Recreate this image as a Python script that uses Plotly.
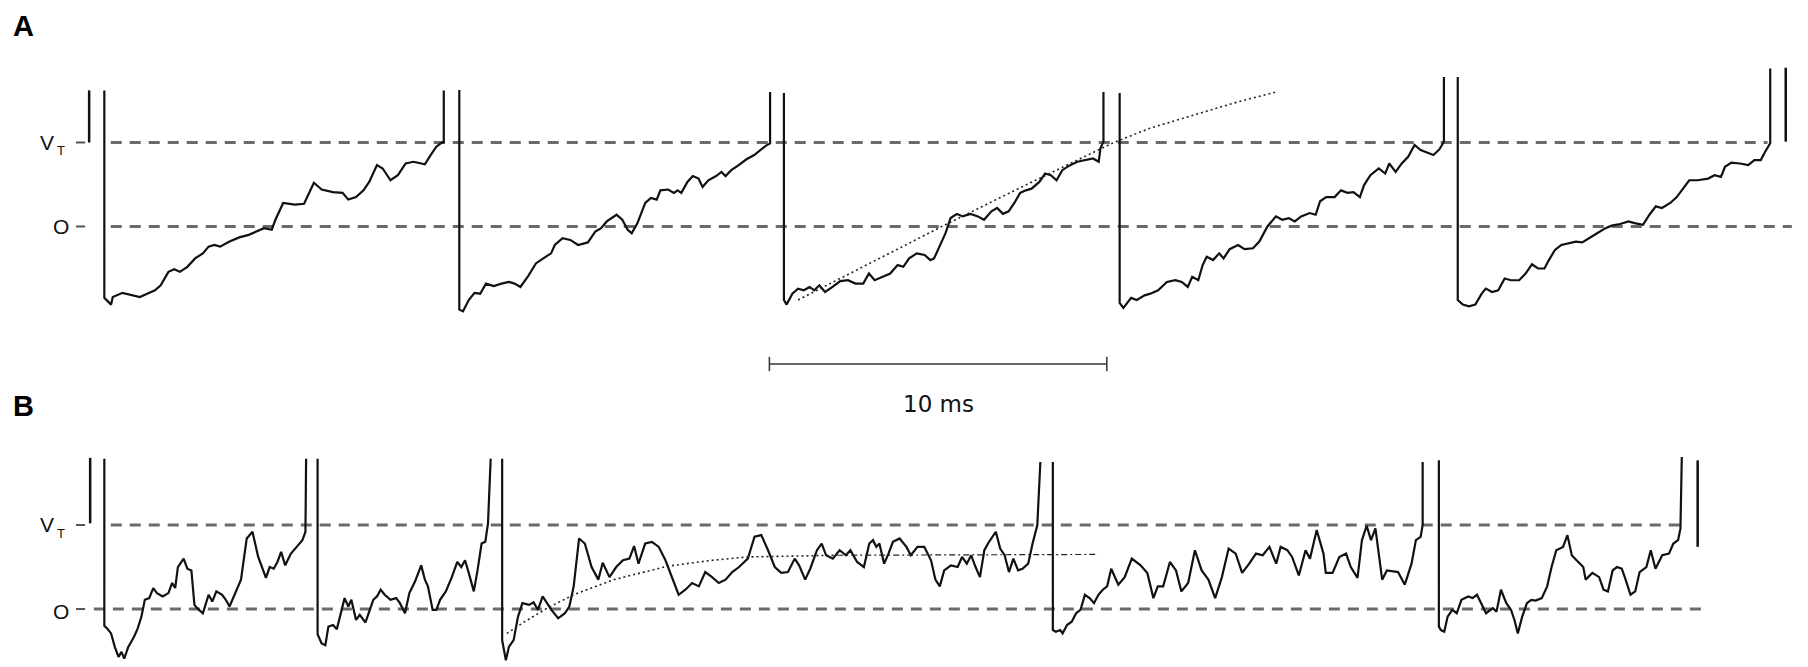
import plotly.graph_objects as go

# ---- data: time (ms), membrane potential (units: 0 = rest, 1 = V_T) ----
A1 = [(0.01,1.62),(0.01,-0.85),(0.21,-0.93),(0.26,-0.84),(0.55,-0.79),(0.83,-0.82),(1.06,-0.84),(1.28,-0.80),(1.51,-0.76),(1.68,-0.70),(1.91,-0.54),(2.08,-0.51),(2.25,-0.54),(2.47,-0.48),(2.70,-0.38),(2.93,-0.32),(3.10,-0.24),(3.27,-0.22),(3.44,-0.24),(3.72,-0.18),(4.01,-0.13),(4.29,-0.10),(4.52,-0.06),(4.74,-0.02),(4.97,-0.04),(5.08,0.08),(5.31,0.28),(5.65,0.26),(5.93,0.27),(6.22,0.52),(6.45,0.44),(6.78,0.41),(7.07,0.40),(7.24,0.32),(7.47,0.35),(7.69,0.43),(7.86,0.53),(8.09,0.73),(8.26,0.69),(8.49,0.55),(8.71,0.61),(8.94,0.75),(9.17,0.77),(9.51,0.74),(9.68,0.85),(9.85,0.95),(10.02,1.00),(10.07,1.00),(10.07,1.62)]
A2 = [(10.53,1.625),(10.53,-0.99),(10.64,-1.01),(10.81,-0.875),(10.98,-0.79),(11.15,-0.80),(11.32,-0.68),(11.55,-0.71),(11.78,-0.68),(12.00,-0.66),(12.17,-0.68),(12.34,-0.72),(12.57,-0.59),(12.80,-0.44),(13.02,-0.38),(13.25,-0.32),(13.36,-0.22),(13.59,-0.14),(13.82,-0.16),(14.05,-0.22),(14.34,-0.19),(14.56,-0.06),(14.73,-0.02),(14.90,0.06),(15.19,0.14),(15.36,0.08),(15.52,-0.04),(15.64,-0.08),(15.81,0.04),(16.04,0.28),(16.21,0.34),(16.38,0.32),(16.49,0.43),(16.72,0.44),(16.89,0.40),(17.00,0.43),(17.11,0.40),(17.29,0.53),(17.45,0.60),(17.62,0.57),(17.74,0.47),(17.91,0.55),(18.14,0.60),(18.30,0.65),(18.42,0.60),(18.59,0.67),(18.81,0.73),(19.04,0.80),(19.27,0.85),(19.44,0.91),(19.61,0.96),(19.70,0.98),(19.74,0.99),(19.74,1.60)]
A3 = [(20.15,1.59),(20.15,-0.875),(20.23,-0.93),(20.40,-0.80),(20.57,-0.74),(20.74,-0.76),(20.91,-0.72),(21.05,-0.76),(21.20,-0.70),(21.37,-0.78),(21.59,-0.72),(21.82,-0.65),(22.05,-0.64),(22.27,-0.68),(22.50,-0.68),(22.67,-0.56),(22.84,-0.64),(23.07,-0.60),(23.30,-0.56),(23.52,-0.46),(23.69,-0.48),(23.86,-0.38),(24.09,-0.32),(24.32,-0.34),(24.49,-0.40),(24.60,-0.38),(24.77,-0.24),(24.94,-0.08),(25.09,0.10),(25.28,0.15),(25.45,0.12),(25.68,0.15),(25.90,0.12),(26.08,0.08),(26.30,0.18),(26.47,0.22),(26.64,0.15),(26.81,0.18),(26.98,0.28),(27.15,0.40),(27.32,0.43),(27.49,0.45),(27.72,0.53),(27.89,0.63),(28.06,0.61),(28.23,0.55),(28.40,0.67),(28.63,0.73),(28.85,0.77),(29.08,0.79),(29.31,0.81),(29.48,0.77),(29.53,0.93),(29.62,1.01),(29.62,1.60)]
A4 = [(30.10,1.59),(30.10,-0.91),(30.21,-0.97),(30.44,-0.85),(30.61,-0.875),(30.84,-0.82),(31.01,-0.80),(31.24,-0.76),(31.50,-0.66),(31.75,-0.64),(31.94,-0.66),(32.12,-0.72),(32.25,-0.60),(32.43,-0.64),(32.56,-0.46),(32.68,-0.36),(32.87,-0.40),(33.05,-0.32),(33.18,-0.38),(33.36,-0.27),(33.61,-0.22),(33.80,-0.27),(34.05,-0.26),(34.24,-0.18),(34.48,0.0),(34.73,0.12),(34.92,0.08),(35.11,0.10),(35.29,0.06),(35.48,0.12),(35.73,0.16),(35.91,0.14),(36.04,0.30),(36.22,0.35),(36.47,0.35),(36.66,0.43),(36.85,0.40),(37.03,0.41),(37.22,0.35),(37.34,0.49),(37.53,0.61),(37.78,0.69),(37.97,0.63),(38.09,0.75),(38.28,0.65),(38.46,0.75),(38.65,0.83),(38.84,0.97),(39.02,0.91),(39.21,0.88),(39.40,0.85),(39.58,0.92),(39.71,1.01),(39.71,1.78)]
A5 = [(40.12,1.78),(40.12,-0.875),(40.27,-0.93),(40.45,-0.95),(40.64,-0.93),(40.83,-0.80),(40.95,-0.74),(41.14,-0.78),(41.32,-0.76),(41.51,-0.62),(41.70,-0.64),(41.94,-0.64),(42.13,-0.56),(42.32,-0.45),(42.50,-0.50),(42.69,-0.50),(42.82,-0.40),(43.00,-0.28),(43.19,-0.22),(43.44,-0.20),(43.62,-0.18),(43.81,-0.19),(44.00,-0.14),(44.25,-0.08),(44.50,-0.02),(44.68,0.01),(44.93,0.03),(45.18,0.06),(45.36,0.04),(45.61,0.02),(45.80,0.14),(45.99,0.24),(46.17,0.22),(46.42,0.28),(46.61,0.35),(46.80,0.45),(46.98,0.55),(47.23,0.55),(47.54,0.57),(47.73,0.61),(47.92,0.59),(48.04,0.71),(48.23,0.76),(48.48,0.75),(48.73,0.73),(48.91,0.79),(49.10,0.79),(49.23,0.89),(49.38,0.99),(49.38,1.88)]

B1 = [(0.01,1.79),(0.01,-0.20),(0.09,-0.23),(0.21,-0.29),(0.32,-0.45),(0.43,-0.57),(0.52,-0.51),(0.60,-0.59),(0.72,-0.45),(0.89,-0.33),(1.00,-0.23),(1.11,-0.09),(1.21,0.11),(1.34,0.13),(1.46,0.25),(1.57,0.19),(1.74,0.15),(1.91,0.19),(2.02,0.31),(2.11,0.25),(2.19,0.50),(2.36,0.60),(2.47,0.48),(2.59,0.46),(2.68,0.05),(2.76,0.01),(2.93,-0.05),(3.10,0.17),(3.21,0.09),(3.33,0.21),(3.50,0.17),(3.61,0.11),(3.72,0.03),(3.89,0.19),(4.06,0.35),(4.23,0.84),(4.40,0.92),(4.57,0.62),(4.80,0.37),(4.91,0.50),(5.03,0.48),(5.14,0.56),(5.25,0.68),(5.37,0.52),(5.54,0.66),(5.71,0.74),(5.88,0.82),(5.97,0.92),(5.99,1.79)]
B2 = [(6.33,1.79),(6.33,-0.30),(6.45,-0.41),(6.56,-0.43),(6.65,-0.21),(6.79,-0.19),(6.90,-0.24),(7.01,-0.05),(7.13,0.13),(7.24,0.03),(7.33,0.11),(7.47,-0.13),(7.58,-0.07),(7.75,-0.16),(7.86,-0.03),(7.98,0.11),(8.09,0.15),(8.20,0.23),(8.32,0.17),(8.49,0.11),(8.66,0.13),(8.77,0.07),(8.92,-0.05),(9.05,0.19),(9.22,0.33),(9.40,0.52),(9.51,0.35),(9.60,0.27),(9.74,-0.01),(9.85,-0.01),(9.96,0.11),(10.13,0.21),(10.30,0.37),(10.47,0.56),(10.59,0.50),(10.70,0.58),(10.81,0.43),(10.96,0.21),(11.07,0.46),(11.19,0.78),(11.30,0.80),(11.38,1.02),(11.46,1.79)]
B3 = [(11.80,1.79),(11.80,-0.37),(11.91,-0.61),(12.00,-0.45),(12.14,-0.37),(12.27,-0.09),(12.40,0.07),(12.60,0.05),(12.73,0.08),(12.86,-0.01),(13.00,0.15),(13.13,0.07),(13.26,-0.01),(13.46,-0.11),(13.66,-0.05),(13.79,0.03),(13.92,0.27),(14.08,0.84),(14.25,0.78),(14.45,0.50),(14.65,0.35),(14.78,0.55),(14.98,0.38),(15.18,0.50),(15.38,0.58),(15.57,0.60),(15.71,0.75),(15.84,0.54),(16.04,0.78),(16.24,0.80),(16.44,0.74),(16.64,0.58),(16.83,0.38),(17.03,0.17),(17.23,0.23),(17.43,0.31),(17.63,0.27),(17.82,0.44),(18.02,0.38),(18.22,0.31),(18.42,0.35),(18.62,0.44),(18.82,0.50),(19.08,0.60),(19.28,0.86),(19.48,0.88),(19.68,0.70),(19.88,0.50),(20.07,0.43),(20.27,0.44),(20.47,0.60),(20.60,0.52),(20.78,0.35),(20.93,0.48),(21.13,0.70),(21.27,0.78),(21.40,0.64),(21.60,0.60),(21.80,0.70),(21.99,0.64),(22.12,0.70),(22.32,0.56),(22.52,0.50),(22.68,0.78),(22.79,0.82),(22.89,0.74),(22.98,0.78),(23.12,0.54),(23.25,0.66),(23.38,0.80),(23.58,0.84),(23.78,0.74),(23.91,0.64),(24.11,0.74),(24.31,0.74),(24.51,0.58),(24.64,0.35),(24.77,0.27),(24.90,0.46),(25.10,0.52),(25.30,0.50),(25.43,0.62),(25.57,0.54),(25.70,0.64),(25.83,0.50),(25.96,0.38),(26.09,0.70),(26.23,0.80),(26.43,0.92),(26.56,0.72),(26.69,0.64),(26.82,0.44),(26.95,0.60),(27.09,0.46),(27.22,0.48),(27.39,0.54),(27.52,0.78),(27.66,1.00),(27.75,1.75)]
B4 = [(28.12,1.75),(28.12,-0.25),(28.21,-0.27),(28.34,-0.25),(28.41,-0.29),(28.54,-0.19),(28.68,-0.15),(28.81,-0.05),(28.94,-0.01),(29.07,0.17),(29.21,0.13),(29.34,0.07),(29.47,0.17),(29.60,0.23),(29.73,0.27),(29.85,0.48),(30.06,0.29),(30.25,0.38),(30.46,0.60),(30.72,0.52),(30.92,0.43),(31.10,0.13),(31.23,0.27),(31.39,0.27),(31.59,0.56),(31.77,0.46),(31.93,0.21),(32.13,0.31),(32.33,0.70),(32.53,0.46),(32.73,0.35),(32.93,0.13),(33.13,0.38),(33.33,0.72),(33.54,0.66),(33.73,0.43),(33.94,0.54),(34.14,0.66),(34.34,0.64),(34.54,0.74),(34.74,0.54),(34.87,0.74),(35.07,0.70),(35.21,0.62),(35.41,0.40),(35.61,0.70),(35.74,0.60),(35.94,0.94),(36.14,0.66),(36.21,0.43),(36.41,0.43),(36.61,0.62),(36.81,0.66),(36.95,0.50),(37.15,0.37),(37.28,0.82),(37.42,0.99),(37.55,0.82),(37.68,0.96),(37.88,0.35),(38.02,0.46),(38.35,0.44),(38.55,0.29),(38.75,0.54),(38.88,0.82),(39.02,0.86),(39.08,1.00),(39.08,1.75)]
B5 = [(39.56,1.77),(39.56,-0.21),(39.62,-0.25),(39.72,-0.27),(39.82,-0.09),(39.96,-0.01),(40.09,-0.05),(40.23,0.11),(40.43,0.15),(40.56,0.13),(40.69,0.17),(40.83,0.05),(40.96,-0.05),(41.16,0.01),(41.27,-0.03),(41.40,0.23),(41.56,0.07),(41.70,-0.01),(41.80,-0.13),(41.90,-0.29),(42.03,-0.09),(42.17,0.07),(42.30,0.11),(42.43,0.10),(42.61,0.13),(42.77,0.27),(42.90,0.50),(43.04,0.70),(43.24,0.74),(43.37,0.88),(43.50,0.64),(43.64,0.58),(43.84,0.50),(43.91,0.35),(44.11,0.43),(44.31,0.38),(44.44,0.23),(44.57,0.21),(44.71,0.46),(44.84,0.50),(44.98,0.48),(45.07,0.38),(45.24,0.17),(45.38,0.21),(45.51,0.44),(45.71,0.50),(45.84,0.70),(45.98,0.48),(46.18,0.64),(46.38,0.66),(46.51,0.78),(46.65,0.82),(46.72,0.96),(46.76,1.81)]

# theoretical mean trajectories (dotted)
FIT_A = [(20.57,-0.875),(22.70,-0.44),(24.83,0.0),(27.45,0.52),(29.93,1.0),(31.00,1.17),(32.19,1.31),(33.49,1.47),(34.73,1.60)]
FIT_B = [(11.94,-0.29),(12.47,-0.15),(13.13,0.01),(13.92,0.17),(15.11,0.35),(16.70,0.51),(18.02,0.58),(19.08,0.62),(20.41,0.63),(21.73,0.64)]
FIT_B_ASYM = [(21.73,0.64),(29.47,0.65)]

# spike marks drawn at panel edges
MARK_A = [[(-0.44,1.0),(-0.44,1.62)], [(49.84,1.01),(49.84,1.89)]]
MARK_B = [[(-0.41,1.02),(-0.41,1.80)], [(47.23,0.74),(47.23,1.77)]]

# reference levels: (t_start, t_end, level)
LEVELS_A = [(0.20,49.3,1.0),(0.20,50.02,0.0)]
LEVELS_B = [(0.20,46.74,1.0),(-0.30,47.45,0.0)]
TICKS = [(-0.83,-0.56)]
SCALE_BAR = (19.72, 29.72, -1.637)   # 10 ms, drawn on panel A axis
SCALE_LABEL = "10 ms"

fig = go.Figure()

def add(seg, yax, color="#111111", width=2.0, dash=None):
    xs, ys = zip(*seg)
    fig.add_trace(go.Scatter(x=list(xs), y=list(ys), yaxis=yax, mode="lines",
                             line=dict(color=color, width=width, dash=dash),
                             hoverinfo="skip", showlegend=False))

# reference dashed levels
for t0, t1, lv in LEVELS_A:
    add([(t0, lv), (t1, lv)], "y", color="#6a6a6a", width=3, dash="11px,8px")
for t0, t1, lv in LEVELS_B:
    add([(t0, lv), (t1, lv)], "y2", color="#6a6a6a", width=3, dash="11px,8px")
for t0, t1 in TICKS:
    for lv in (1.0, 0.0):
        add([(t0, lv), (t1, lv)], "y", color="#555555", width=2)
        add([(t0, lv), (t1, lv)], "y2", color="#555555", width=2)

for seg in (A1, A2, A3, A4, A5):
    add(seg, "y", width=2.2)
for seg in (B1, B2, B3, B4, B5):
    add(seg, "y2", width=2.2)
for seg in MARK_A:
    add(seg, "y", width=2.5)
for seg in MARK_B:
    add(seg, "y2", width=2.5)

add(FIT_A, "y", color="#222222", width=1.6, dash="2px,3px")
add(FIT_B, "y2", color="#222222", width=1.6, dash="2px,3px")
add(FIT_B_ASYM, "y2", color="#222222", width=1.2, dash="6px,3px,2px,3px")

# scale bar
t0, t1, yb = SCALE_BAR
add([(t0, yb), (t1, yb)], "y", color="#333333", width=1.5)
add([(t0, yb - 0.085), (t0, yb + 0.085)], "y", color="#333333", width=1.5)
add([(t1, yb - 0.085), (t1, yb + 0.085)], "y", color="#333333", width=1.5)

FAM = "Liberation Sans, Arial, sans-serif"
big = dict(family=FAM, size=21, color="#111111")
small = dict(family=FAM, size=13, color="#111111")
bold = dict(family=FAM, size=29, color="#000000", weight="bold")

def note(x, y, text, font, xref="x", yref="y", xanchor="center"):
    return dict(x=x, y=y, xref=xref, yref=yref, text=text, showarrow=False, font=font,
                xanchor=xanchor, yanchor="middle")

ann = [
    note(0.013, 0.961, "A", bold, "paper", "paper"),
    note(0.013, 0.391, "B", bold, "paper", "paper"),
    note(-1.675, 1.0, "V", big, "x", "y"),
    note(-1.274, 0.90, "T", small, "x", "y"),
    note(-1.27, 0.0, "O", big, "x", "y"),
    note(-1.675, 1.01, "V", big, "x", "y2"),
    note(-1.274, 0.905, "T", small, "x", "y2"),
    note(-1.27, -0.03, "O", big, "x", "y2"),
    note((t0 + t1) / 2, -2.11, SCALE_LABEL,
         dict(family="DejaVu Sans, sans-serif", size=23, color="#111111"), "x", "y"),
]

fig.update_layout(
    width=1808, height=667,
    margin=dict(l=0, r=0, t=0, b=0, pad=0),
    paper_bgcolor="white", plot_bgcolor="white",
    xaxis=dict(range=[-3.082, 50.50], visible=False, domain=[0, 1]),
    yaxis=dict(range=[-5.244, 2.696], visible=False, domain=[0, 1]),
    yaxis2=dict(range=[-0.690, 7.25], visible=False, overlaying="y", anchor="x"),
    annotations=ann,
    showlegend=False,
)

fig.write_html("out.html", config={"displayModeBar": False},
               post_script="document.body.style.margin='0';document.body.style.overflow='hidden';")
